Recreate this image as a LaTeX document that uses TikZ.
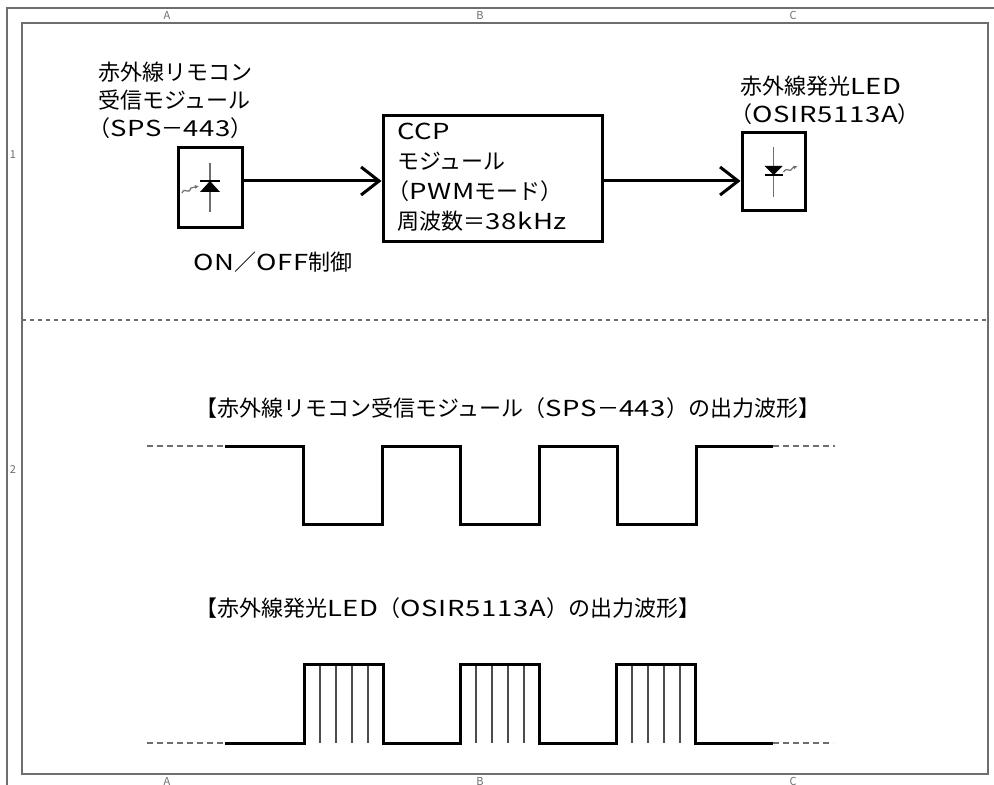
\documentclass[tikz,border=0pt]{standalone}
\usepackage{fontspec}
\setmainfont{Noto Sans CJK JP}
\usetikzlibrary{arrows.meta}
\definecolor{framegray}{RGB}{110,110,110}
\newcommand\an[1]{{\addfontfeature{FakeStretch=1.25,LetterSpace=3}#1}}
\newcommand\lead{\kern-0.45em}
\tikzset{
    blk/.style={draw, line width=1.5pt, inner sep=0pt},
    lbl/.style={align=left, inner sep=0pt, anchor=west, font=\fontsize{11}{14}\selectfont},
    arr/.style={line width=1.5pt, -{Straight Barb[length=9pt,width=14pt]}},
    wave/.style={line width=1.5pt},
    ext/.style={framegray, line width=0.7pt, dash pattern=on 3pt off 2pt},
    tick/.style={font=\fontsize{5.5}{5.5}\selectfont, text=framegray, inner sep=0pt},
}

\begin{document}
\begin{tikzpicture}[x=0.5pt,y=-0.5pt]
    \useasboundingbox (0,0) rectangle (994,785);
    \clip (0,0) rectangle (994,785);
    \draw[framegray, line width=0.7pt] (7,8) rectangle (1010,800);
    \draw[framegray, line width=0.7pt] (22,23) rectangle (988,774);
    \foreach \x/\l in {167/A,480/B,793/C} {
        \node[tick] (top\l) at (\x,15) {\l};
        \node[tick] (bot\l) at (\x,781) {\l};
    }
    \foreach \y/\l in {155/1,470/2} {
        \node[tick] (row\l) at (13,\y) {\l};
    }
    \draw[framegray, line width=0.7pt, dash pattern=on 2pt off 2pt] (22,320) -- (988,320);

    \node[blk, minimum width=32pt, minimum height=40pt] (rx) at (210,188) {};
    \node[blk, minimum width=109.5pt, minimum height=63pt] (ccp) at (492.5,179) {};
    \node[blk, minimum width=31.5pt, minimum height=39pt] (led) at (773.5,172) {};

    \node[lbl] (rxlbl) at (98,100) {赤外線リモコン\\受信モジュール\\\lead（\an{SPS}－\an{443}）};
    \node[lbl] (onoff) at (193,262) {\an{ON}／\an{OFF}制御};
    \node[lbl, font=\fontsize{11}{15}\selectfont] (ccptxt) at (397,177) {\an{CCP}\\モジュール\\\lead（\an{PWM}モード）\\周波数＝\an{38kHz}};
    \node[lbl] (ledlbl) at (740,100) {赤外線発光\an{LED}\\\lead（\an{OSIR5113A}）};
    \node[lbl] (title1) at (195,408) {【赤外線リモコン受信モジュール（\an{SPS}－\an{443}）の出力波形】};
    \node[lbl] (title2) at (195,608) {【赤外線発光\an{LED}（\an{OSIR5113A}）の出力波形】};

    \coordinate (sig) at ([yshift=3.5pt]rx.east);
    \draw[arr] (sig) -- (sig -| ccp.west);
    \draw[arr] (sig -| ccp.east) -- (sig -| led.west);

    \begin{scope}[shift={(rx.center)}]
        \draw[framegray, line width=0.8pt] (0,-25) -- (0,24);
        \draw[line width=1.2pt] (-10,-7) -- (10,-7);
        \fill (0,-7) -- (-10,4) -- (10,4) -- cycle;
        \draw[framegray, line width=0.6pt, -{Latex[length=2pt,width=2pt]}] (-28,5) .. controls (-25,-2) and (-22,8) .. (-19,0) -- (-11,-2);
    \end{scope}
    \begin{scope}[shift={(led.center)}]
        \draw[framegray, line width=0.8pt] (0,-25) -- (0,25);
        \fill (-9,-6) -- (9,-6) -- (0,3) -- cycle;
        \draw[line width=1.2pt] (-9,3) -- (9,3);
        \draw[framegray, line width=0.6pt, -{Latex[length=2pt,width=2pt]}] (10,0) .. controls (14,-6) and (16,2) .. (19,-4) -- (24,-6);
    \end{scope}

    \draw[ext] (147,446) -- (225,446);
    \draw[ext] (773,446) -- (835,446);
    \draw[wave] (225,446) foreach \x in {303,460,617} { -- (\x,446) -- (\x,524) -- (\x+79,524) -- (\x+79,446) } -- (773,446);

    \draw[ext] (147,743) -- (225,743);
    \draw[ext] (773,743) -- (833,743);
    \foreach \x in {304,460,616} {
        \foreach \k in {1,...,4} {
            \draw[black!70, line width=0.7pt] (\x+16*\k,664) -- (\x+16*\k,743);
        }
    }
    \draw[wave] (225,743) foreach \x in {304,460,616} { -- (\x,743) -- (\x,664) -- (\x+79,664) -- (\x+79,743) } -- (773,743);
\end{tikzpicture}
\end{document}
